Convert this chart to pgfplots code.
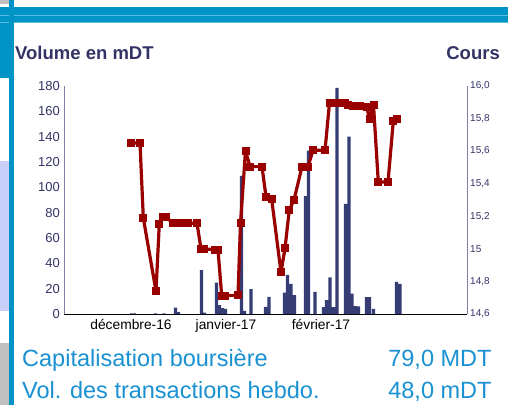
\documentclass[border=0pt]{standalone}
\usepackage{pgfplots}
\pgfplotsset{compat=1.18}
\usepackage{fontspec}
\setmainfont{Liberation Sans}
\definecolor{band}{RGB}{0,148,198}
\definecolor{bandlight}{RGB}{90,190,225}
\definecolor{lav}{RGB}{200,208,250}
\definecolor{greyside}{RGB}{192,192,192}
\definecolor{navy}{RGB}{51,51,102}
\definecolor{barcol}{RGB}{54,60,116}
\definecolor{linecol}{RGB}{153,0,0}
\definecolor{txtblue}{RGB}{25,145,210}
\definecolor{axisgrey}{RGB}{128,128,170}
\begin{document}
\begin{tikzpicture}[x=1pt,y=1pt]
\useasboundingbox (0,0) rectangle (508,405);
\fill[white] (0,0) rectangle (508,405);
\fill[greyside] (0,405) rectangle (8.5,401);
\fill[band] (0,398) rectangle (8.5,327);
\fill[lav] (0,244) rectangle (8.5,94);
\fill[greyside] (0,62) rectangle (8.5,0);
\fill[band] (0,398) rectangle (508,382.5);
\draw[bandlight, line width=0.8pt] (0,390) -- (508,390);
\draw[bandlight, line width=0.8pt] (0,382.5) -- (508,382.5);
\fill[band] (8.5,0) rectangle (13.5,405);

\node[anchor=base west, inner sep=0pt, font=\fontsize{18.5}{20}\selectfont\bfseries, text=navy] at (15,345.7) {Volume en mDT};
\node[anchor=base east, inner sep=0pt, font=\fontsize{18.5}{20}\selectfont\bfseries, text=navy] at (500,345.7) {Cours};

\node[anchor=base west, inner sep=0pt, font=\fontsize{23.5}{26}\selectfont, text=txtblue] at (22,38.3) {Capitalisation boursière};
\node[anchor=base east, inner sep=0pt, font=\fontsize{23.5}{26}\selectfont, text=txtblue] at (491.7,38.3) {79,0 MDT};
\node[anchor=base west, inner sep=0pt, font=\fontsize{23.5}{26}\selectfont, text=txtblue] at (22,6.7) {Vol. des transactions hebdo.};
\node[anchor=base east, inner sep=0pt, font=\fontsize{23.5}{26}\selectfont, text=txtblue] at (491.7,6.7) {48,0 mDT};

\begin{axis}[at={(64pt,91pt)}, anchor=south west, scale only axis,
  width=403pt, height=228pt,
  xmin=0, xmax=403, ymin=0, ymax=180,
  axis x line*=bottom, axis y line*=left,
  x axis line style={black, line width=1pt},
  y axis line style={axisgrey, line width=0.8pt},
  major tick length=0pt,
  ytick={0,20,40,60,80,100,120,140,160,180},
  /pgf/number format/assume math mode=true,
  yticklabel style={font=\fontsize{13}{14}\selectfont, text=navy, anchor=east, inner sep=0pt, xshift=-4pt},
  xtick={67,162,257},
  xticklabels={décembre-16,janvier-17,février-17},
  xticklabel style={font=\fontsize{13.8}{15}\selectfont, text=black, anchor=north, inner sep=0pt, yshift=-5pt},
  ]
\addplot[ybar, bar width=3.2, fill=barcol, draw=none] coordinates {
(67.5,0.4) (70.5,0.4) (91.5,0.4) (100,0.4) (111.5,5) (114.5,1.5)
(137.5,34.7) (140.5,1) (152.5,24.7) (155.5,7) (158.5,4.7) (161.5,4)
(177.5,109) (180.5,2.5) (187,19.7) (201.5,5.6) (205,13.5)
(220.5,16.8) (223.5,30.8) (227,23.7) (230.5,15)
(241.5,93) (244.5,129) (251,17.5)
(259.5,5.4) (262.5,11) (266,29) (269.5,5.4) (273,178.6)
(281.5,87) (285,140) (288,16) (291,6.2) (294.5,6)
(302.5,13.4) (305.5,13.4) (309.5,4)
(332.5,25.3) (336,23.7)
};
\end{axis}

\begin{axis}[at={(64pt,91pt)}, anchor=south west, scale only axis,
  width=403pt, height=228pt,
  xmin=0, xmax=403, ymin=14.6, ymax=16.0,
  axis y line*=right, axis x line=none,
  y axis line style={axisgrey, line width=0.8pt},
  major tick length=0pt,
  ytick={14.6,14.8,15,15.2,15.4,15.6,15.8,16.0},
  yticklabels={{14,6},{14,8},{15},{15,2},{15,4},{15,6},{15,8},{16,0}},
  yticklabel style={font=\fontsize{10}{12}\selectfont, text=navy, anchor=west, inner sep=0pt, xshift=3pt},
  ]
\addplot[linecol, line width=3.2pt, line join=round, mark=square*, mark size=3.5pt, mark options={solid, fill=linecol, draw=linecol, line width=0pt}] coordinates {
(67,15.65) (76,15.65) (79.3,15.19) (92,14.74) (95.3,15.155) (98.5,15.195) (102,15.195)
(109,15.157) (116,15.157) (124,15.157) (133,15.157)
(137,15.0) (140,15.0) (151,14.995) (154,14.995)
(157.7,14.712) (161,14.712) (174,14.715)
(176.5,15.157) (181.5,15.603) (186,15.505) (198,15.505)
(202,15.32) (207.7,15.304) (217,14.855) (221,15.003) (225.3,15.24) (230,15.30)
(238,15.505) (244,15.505) (249,15.605) (261,15.605)
(265.5,15.897) (273,15.897) (281,15.894) (284,15.883) (289,15.879) (296,15.879)
(302.7,15.873) (305.5,15.80) (309.5,15.883)
(314.3,15.41) (324,15.41) (329.3,15.785) (333,15.80)
};
\end{axis}
\end{tikzpicture}
\end{document}
